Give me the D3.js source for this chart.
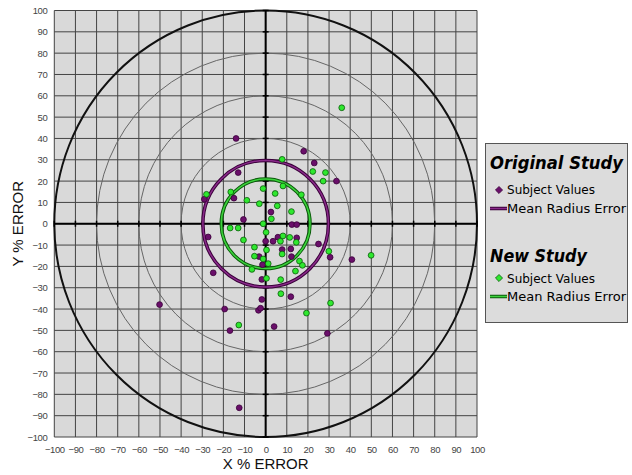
<!DOCTYPE html>
<html>
<head>
<meta charset="utf-8">
<script src="https://cdn.jsdelivr.net/npm/d3@7"></script>
<style>
  body { margin: 0; background: #fff; }
  svg { display: block; }
  .tick text { font-family: "Liberation Sans", Arial, sans-serif; font-size: 9.5px; letter-spacing: -0.4px; fill: #444; }
</style>
</head>
<body>
<svg id="viz" width="632" height="475"></svg>
<script>
// tick values on both axes
var ticks = d3.range(-100, 101, 10);
// reference rings (thick one is the 100% ring)
var rings = [40, 60, 80];
var outerRing = 100;
// mean radius error of each study
var originalMeanRadius = 29.7;
var newMeanRadius = 21;

// subject values, [x % error, y % error]
var originalStudy = [
  [-14, 40], [-13, 24], [-29, 11.5], [-15, 12], [2.5, 5.5], [-10.5, 2],
  [18, 34], [23, 28.5], [33.5, 20], [-27.2, -6.2], [0, -8.2], [3.5, -8.2],
  [-3.1, -15.4], [-1.5, -19.2], [-24.8, -23], [-1.8, -26.1], [-1.8, -35.5],
  [-19.4, -40], [-3.4, -40.6], [-2.4, -39.6], [-16.9, -50.1], [4, -48.2],
  [12.4, -0.4], [14.7, -0.4], [5.8, -6.3], [14.7, -6.6], [7.8, -12.1],
  [11.9, -11.8], [12.2, -15.4], [25, -9.5], [30.5, -15.7], [40.8, -16.8],
  [11.9, -34.2], [29.2, -51.4], [-50.2, -37.9], [-12.5, -86.3]
];
var newStudy = [
  [36, 54.4], [7.8, 30.2], [22.3, 24.5], [28.3, 24], [27.2, 20], [8.2, 17.7],
  [4.5, 14.2], [16.9, 13.6], [5.5, 8.4], [12.2, 5.7], [2.7, 2.3], [-28, 13.8],
  [-16.5, 14.9], [-8.9, 11], [-3, 9.4], [-1.2, 16.5], [-1.2, 0], [-16.8, -2],
  [-13, -2], [0.2, -4], [-10.5, -7.6], [-5.3, -11], [0.4, -12.3], [-5.3, -15.2],
  [-1.2, -16.5], [1.2, -18.7], [-6.5, -21.4], [0.4, -25.6], [-12.7, -47.5],
  [8.2, -5.7], [11.4, -6.4], [7, -8.2], [14.5, -8.7], [7.8, -14.2], [16, -17.5],
  [17.4, -19.5], [29.9, -12.9], [14.1, -22.2], [7.1, -26.2], [7.2, -32.8],
  [30.7, -37.2], [19.3, -41.9], [49.9, -14.8]
];

var purple = "#6a0f6a", purpleDark = "#3a003a";
var green = "#2fe82f", greenDark = "#0a5a0a";

var svg = d3.select("#viz");

var xScale = d3.scaleLinear().domain([-100, 100]).range([54.3, 477]);
var yScale = d3.scaleLinear().domain([-100, 100]).range([437, 10.5]);

function rx(r) { return xScale(r) - xScale(0); }
function ry(r) { return yScale(0) - yScale(r); }

// plot background
svg.append("rect")
  .attr("x", xScale(-100)).attr("y", yScale(100))
  .attr("width", xScale(100) - xScale(-100))
  .attr("height", yScale(-100) - yScale(100))
  .attr("fill", "#d9d9d9");

// grid
var grid = svg.append("g");
grid.selectAll(".vgrid").data(ticks).enter().append("line")
  .attr("x1", d => xScale(d)).attr("x2", d => xScale(d))
  .attr("y1", yScale(100)).attr("y2", yScale(-100))
  .attr("stroke", "#444").attr("stroke-width", 1);
grid.selectAll(".hgrid").data(ticks).enter().append("line")
  .attr("y1", d => yScale(d)).attr("y2", d => yScale(d))
  .attr("x1", xScale(-100)).attr("x2", xScale(100))
  .attr("stroke", "#444").attr("stroke-width", 1);

// rings
svg.selectAll(".ring").data(rings).enter().append("ellipse")
  .attr("cx", xScale(0)).attr("cy", yScale(0))
  .attr("rx", d => rx(d)).attr("ry", d => ry(d))
  .attr("fill", "none").attr("stroke", "#666").attr("stroke-width", 1);
svg.append("ellipse")
  .attr("cx", xScale(0)).attr("cy", yScale(0))
  .attr("rx", rx(outerRing)).attr("ry", ry(outerRing))
  .attr("fill", "none").attr("stroke", "#111").attr("stroke-width", 2);

// zero axes with small ticks
svg.append("line")
  .attr("x1", xScale(-100)).attr("x2", xScale(100))
  .attr("y1", yScale(0)).attr("y2", yScale(0))
  .attr("stroke", "#000").attr("stroke-width", 2);
svg.append("line")
  .attr("x1", xScale(0)).attr("x2", xScale(0))
  .attr("y1", yScale(100)).attr("y2", yScale(-100))
  .attr("stroke", "#000").attr("stroke-width", 2);
svg.selectAll(".xt").data(ticks).enter().append("line")
  .attr("x1", d => xScale(d)).attr("x2", d => xScale(d))
  .attr("y1", yScale(0) - 3).attr("y2", yScale(0) + 3)
  .attr("stroke", "#000").attr("stroke-width", 1.5);
svg.selectAll(".yt").data(ticks).enter().append("line")
  .attr("y1", d => yScale(d)).attr("y2", d => yScale(d))
  .attr("x1", xScale(0) - 3).attr("x2", xScale(0) + 3)
  .attr("stroke", "#000").attr("stroke-width", 1.5);

// mean radius error circles (dark edge + lighter core)
function meanCircle(r, dark, light) {
  svg.append("ellipse")
    .attr("cx", xScale(0)).attr("cy", yScale(0))
    .attr("rx", rx(r)).attr("ry", ry(r))
    .attr("fill", "none").attr("stroke", dark).attr("stroke-width", 3.5);
  svg.append("ellipse")
    .attr("cx", xScale(0)).attr("cy", yScale(0))
    .attr("rx", rx(r)).attr("ry", ry(r))
    .attr("fill", "none").attr("stroke", light).attr("stroke-width", 1.5);
}
meanCircle(originalMeanRadius, purpleDark, "#8a2a8a");
meanCircle(newMeanRadius, greenDark, "#3cd23c");

// points
svg.append("g").selectAll("circle").data(originalStudy).enter().append("circle")
  .attr("cx", d => xScale(d[0])).attr("cy", d => yScale(d[1]))
  .attr("r", 2.9).attr("fill", purple).attr("stroke", purpleDark).attr("stroke-width", 0.8);
svg.append("g").selectAll("circle").data(newStudy).enter().append("circle")
  .attr("cx", d => xScale(d[0])).attr("cy", d => yScale(d[1]))
  .attr("r", 2.9).attr("fill", green).attr("stroke", greenDark).attr("stroke-width", 0.8);

// axes tick labels
var xAxis = svg.append("g")
  .attr("transform", "translate(0," + (yScale(-100) + 5) + ")")
  .call(d3.axisBottom(xScale).tickValues(ticks).tickSize(0).tickPadding(4));
var yAxis = svg.append("g")
  .attr("transform", "translate(" + (xScale(-100) - 7) + ",0)")
  .call(d3.axisLeft(yScale).tickValues(ticks).tickSize(0).tickPadding(0));
xAxis.select(".domain").remove();
yAxis.select(".domain").remove();

// axis titles
svg.append("text")
  .attr("x", xScale(0)).attr("y", 469)
  .attr("text-anchor", "middle")
  .style("font-family", "'Liberation Sans', Arial, sans-serif")
  .style("font-size", "15px").attr("fill", "#111")
  .text("X % ERROR");
svg.append("text")
  .attr("transform", "translate(23," + yScale(0) + ") rotate(-90)")
  .attr("text-anchor", "middle")
  .style("font-family", "'Liberation Sans', Arial, sans-serif")
  .style("font-size", "15px").attr("fill", "#111")
  .text("Y % ERROR");

// legend
var legend = svg.append("g");
legend.append("rect")
  .attr("x", 485.5).attr("y", 143.5).attr("width", 142).attr("height", 179)
  .attr("fill", "#dcdcdc").attr("stroke", "#555").attr("stroke-width", 1);

function legendTitle(txt, y, w) {
  legend.append("text")
    .attr("x", 490).attr("y", y)
    .attr("textLength", w).attr("lengthAdjust", "spacingAndGlyphs")
    .style("font-family", "'DejaVu Sans', Verdana, sans-serif")
    .style("font-weight", "bold").style("font-style", "italic")
    .style("font-size", "17px").attr("fill", "#000")
    .text(txt);
}
function legendItem(txt, y, w) {
  legend.append("text")
    .attr("x", 507).attr("y", y)
    .attr("textLength", w).attr("lengthAdjust", "spacingAndGlyphs")
    .style("font-family", "'DejaVu Sans', Verdana, sans-serif")
    .style("font-size", "13px").attr("fill", "#000")
    .text(txt);
}
var diamond = d3.symbol().type(d3.symbolDiamond2).size(32);

legendTitle("Original Study", 169, 133);
legend.append("path").attr("d", diamond)
  .attr("transform", "translate(499,190)")
  .attr("fill", purple).attr("stroke", purpleDark).attr("stroke-width", 0.8);
legendItem("Subject Values", 194, 88);
legend.append("line").attr("x1", 490).attr("x2", 507).attr("y1", 208.5).attr("y2", 208.5)
  .attr("stroke", purpleDark).attr("stroke-width", 3.5);
legend.append("line").attr("x1", 490).attr("x2", 507).attr("y1", 208.5).attr("y2", 208.5)
  .attr("stroke", "#8a2a8a").attr("stroke-width", 1.5);
legendItem("Mean Radius Error", 213, 119);

legendTitle("New Study", 262, 97);
legend.append("path").attr("d", diamond)
  .attr("transform", "translate(499,278)")
  .attr("fill", green).attr("stroke", greenDark).attr("stroke-width", 0.8);
legendItem("Subject Values", 283, 88);
legend.append("line").attr("x1", 490).attr("x2", 507).attr("y1", 296.5).attr("y2", 296.5)
  .attr("stroke", greenDark).attr("stroke-width", 3.5);
legend.append("line").attr("x1", 490).attr("x2", 507).attr("y1", 296.5).attr("y2", 296.5)
  .attr("stroke", "#3cd23c").attr("stroke-width", 1.5);
legendItem("Mean Radius Error", 301, 119);
</script>
</body>
</html>
